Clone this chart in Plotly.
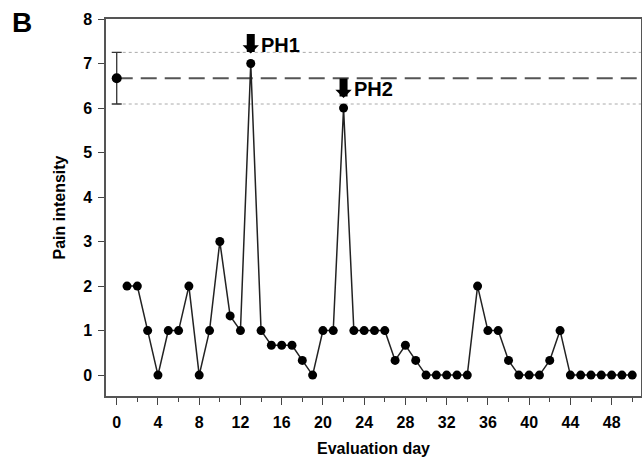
import plotly.graph_objects as go

# ---- data ----
days = list(range(1, 51))
pain = [2, 2, 1, 0, 1, 1, 2, 0, 1, 3,
        1.33, 1, 7, 1, 0.67, 0.67, 0.67, 0.33, 0, 1,
        1, 6, 1, 1, 1, 1, 0.33, 0.67, 0.33, 0,
        0, 0, 0, 0, 2, 1, 1, 0.33, 0, 0,
        0, 0.33, 1, 0, 0, 0, 0, 0, 0, 0]
baseline_day = [0]
baseline_mean = [6.67]
baseline_sd = [0.58]
peaks = [("PH1", 13, 7), ("PH2", 22, 6)]
x_ticks = list(range(0, 49, 4))
y_ticks = list(range(0, 9))

x_range = [-1.04, 50.85]
y_range = [-0.47, 8.0]

FONT = "Arial, Liberation Sans, Helvetica, sans-serif"
W, H = 642, 467
ML, MR, MT, MB = 106, 1, 19, 71
PW, PH = W - ML - MR, H - MT - MB

fig = go.Figure()

m = baseline_mean[0]
s = baseline_sd[0]

# reference lines (mean dashed, +/- sd dotted)
for yv in (m + s, m - s):
    fig.add_trace(go.Scatter(x=[baseline_day[0], x_range[1]], y=[yv, yv], mode="lines",
                             line=dict(color="#aaaaaa", width=1, dash="dot"), hoverinfo="skip", showlegend=False))
fig.add_trace(go.Scatter(x=[baseline_day[0], x_range[1]], y=[m, m], mode="lines",
                         line=dict(color="#555555", width=2, dash="16px,8px"), hoverinfo="skip", showlegend=False))

# baseline point with error bar
fig.add_trace(go.Scatter(x=baseline_day, y=baseline_mean, mode="markers",
                         marker=dict(color="black", size=10),
                         error_y=dict(type="data", array=baseline_sd, color="#333333", thickness=1.3, width=5),
                         showlegend=False))

# daily series
fig.add_trace(go.Scatter(x=days, y=pain, mode="lines+markers",
                         line=dict(color="#222222", width=1.5),
                         marker=dict(color="black", size=9),
                         showlegend=False))

# peak arrows and labels
for label, d, v in peaks:
    fig.add_annotation(x=d, y=v, xref="x", yref="y", text="", showarrow=True,
                       ax=0, ay=-31, axref="pixel", ayref="pixel",
                       arrowhead=1, arrowsize=0.34, arrowwidth=8, arrowcolor="black", standoff=10)
    fig.add_annotation(x=d, y=v, xref="x", yref="y", text="<b>%s</b>" % label, showarrow=False,
                       xanchor="left", yanchor="middle", xshift=8, yshift=19,
                       font=dict(family=FONT, size=20, color="black"))

# panel letter
fig.add_annotation(xref="paper", yref="paper", x=(22 - ML) / PW, y=1 + (MT - 22) / PH,
                   text="<b>B</b>", showarrow=False, xanchor="center", yanchor="middle",
                   font=dict(family=FONT, size=28, color="black"))

fig.update_layout(
    width=W, height=H,
    margin=dict(l=ML, r=MR, t=MT, b=MB, pad=0, autoexpand=False),
    plot_bgcolor="white", paper_bgcolor="white",
    font=dict(family=FONT, color="black"),
)
fig.update_xaxes(range=x_range, tickmode="array", tickvals=x_ticks, automargin=False,
                 ticks="outside", ticklen=7, tickwidth=1.3, tickcolor="#444444", ticklabelstandoff=4,
                 minor=dict(dtick=2, tick0=0, ticks="outside", ticklen=4, tickwidth=1.2, tickcolor="#444444"),
                 showgrid=False, zeroline=False, showline=True, linecolor="#555555", linewidth=1.5, mirror=True,
                 tickfont=dict(family=FONT, size=16, weight="bold"),
                 title=dict(text="<b>Evaluation day</b>", font=dict(family=FONT, size=16), standoff=13))
fig.update_yaxes(range=y_range, tickmode="array", tickvals=y_ticks, automargin=False,
                 ticks="outside", ticklen=6, tickwidth=1.3, tickcolor="#444444", ticklabelstandoff=3,
                 showgrid=False, zeroline=False, showline=True, linecolor="#555555", linewidth=1.5, mirror=True,
                 tickfont=dict(family=FONT, size=16, weight="bold"),
                 title=dict(text="<b>Pain intensity</b>", font=dict(family=FONT, size=16), standoff=14))

fig.write_html("out.html", config={"displayModeBar": False},
               post_script="document.body.style.margin='0';document.body.style.overflow='hidden';")
